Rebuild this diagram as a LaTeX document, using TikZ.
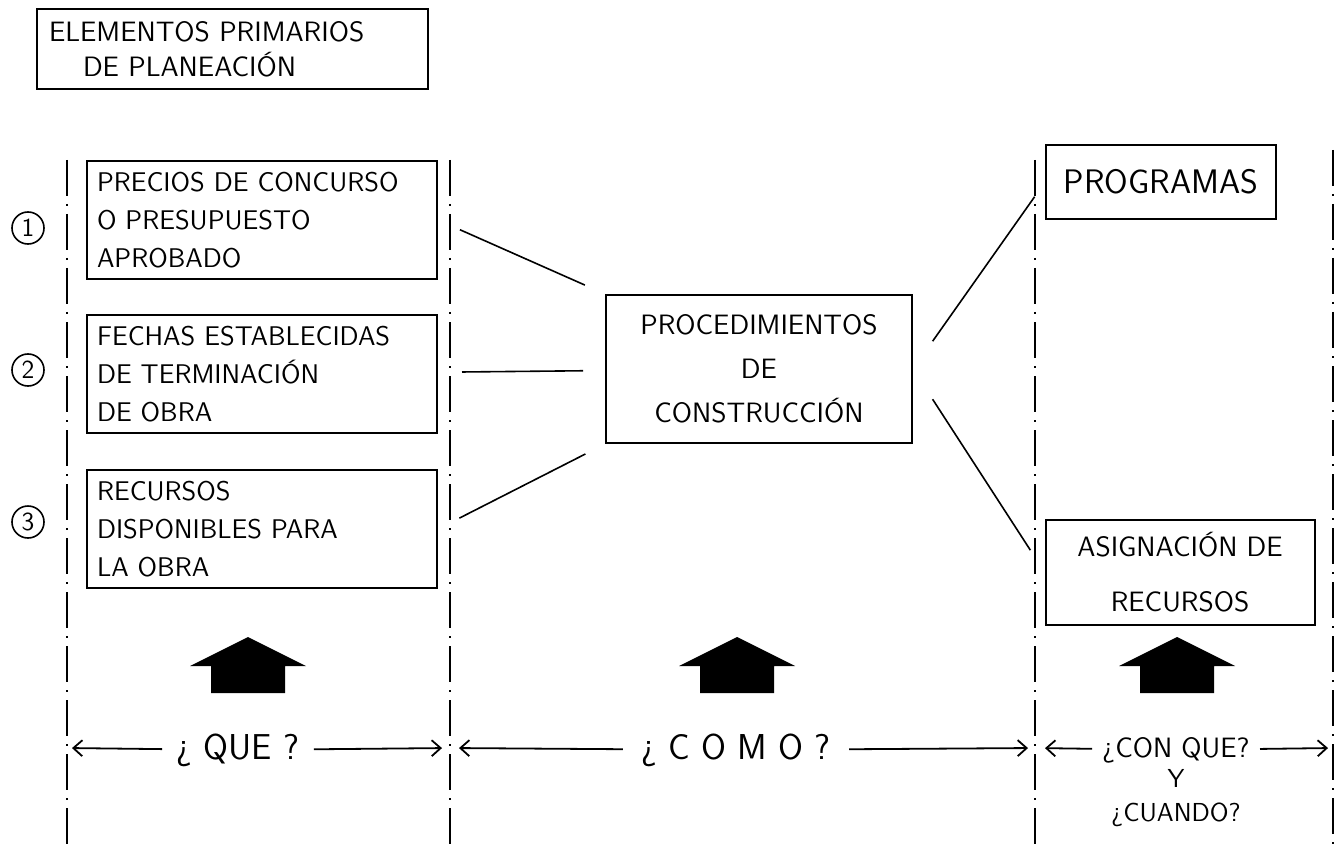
\documentclass[tikz,border=0pt]{standalone}
\usepackage{tikz}
\usetikzlibrary{positioning,arrows.meta}

\tikzset{
  caja/.style={draw, line width=1pt, rectangle, inner sep=5pt},
  cajaizq/.style={caja, minimum width=175pt, minimum height=59pt, text width=165pt,
    align=left, font=\sffamily\fontsize{13.5}{19}\selectfont},
  numero/.style={draw, circle, line width=0.8pt, minimum size=16pt, inner sep=0pt,
    font=\sffamily\fontsize{13}{13}\selectfont},
  linea/.style={line width=0.8pt},
  divisor/.style={line width=0.6pt, dash pattern=on 18pt off 4pt on 1pt off 4pt},
  flecha/.style={-{Straight Barb[length=4.5pt, width=8pt]}, line width=0.9pt},
  pregunta/.style={inner ysep=2pt, font=\sffamily\fontsize{18}{18}\selectfont}
}

\begin{document}
\begin{tikzpicture}[x=0.5pt, y=-0.5pt]
  \useasboundingbox (0,0) rectangle (1336,844);

  % Divisiones verticales
  \draw[divisor] (67,160) -- (67,844);
  \draw[divisor] (450,160) -- (450,844);
  \draw[divisor] (1035,160) -- (1035,844);
  \draw[divisor] (1333,150) -- (1333,844);

  % Título
  \node[caja, minimum width=195.5pt, minimum height=39.5pt, text width=183pt, inner sep=6pt,
    align=left, font=\sffamily\fontsize{14}{17.5}\selectfont] (titulo) at (232,49)
    {ELEMENTOS PRIMARIOS\\\hspace*{17pt}DE PLANEACIÓN};

  % Elementos
  \node[cajaizq] (caja1) at (262,220) {PRECIOS DE CONCURSO\\O PRESUPUESTO\\APROBADO};
  \node[cajaizq] (caja2) at (262,374) {FECHAS ESTABLECIDAS\\DE TERMINACIÓN\\DE OBRA};
  \node[cajaizq] (caja3) at (262,529) {RECURSOS\\DISPONIBLES PARA\\LA OBRA};
  \node[numero] (num1) at (28,228) {1};
  \node[numero] (num2) at (28,370) {2};
  \node[numero] (num3) at (28,522) {3};

  \node[caja, minimum width=153pt, minimum height=74pt, align=center,
    font=\sffamily\fontsize{14}{22}\selectfont] (proc) at (759,369)
    {PROCEDIMIENTOS\\DE\\CONSTRUCCIÓN};
  \node[caja, minimum width=115pt, minimum height=37pt,
    font=\sffamily\fontsize{17}{17}\selectfont] (prog) at (1161,182) {PROGRAMAS};
  \node[caja, minimum width=134.5pt, minimum height=52.5pt, inner sep=2pt, align=center,
    font=\sffamily\fontsize{14}{27.5}\selectfont] (asig) at (1180,572)
    {ASIGNACIÓN DE\\RECURSOS};

  % Conexiones
  \draw[linea, shorten <=12pt, shorten >=11pt] (caja1.east) -- (proc.north west);
  \draw[linea, shorten <=12pt, shorten >=11pt] (caja2) -- (proc);
  \draw[linea, shorten <=12pt, shorten >=11pt] (caja3.east) -- (proc.south west);
  \draw[linea, shorten <=17pt, shorten >=9pt] (proc.east) -- (prog.west);
  \draw[linea, shorten <=18pt, shorten >=13pt] (proc.east) -- (asig.west);

  % Flechas gruesas
  \foreach \cx in {248,737,1177}
    \fill (\cx-58,666) -- (\cx,637) -- (\cx+58,666) -- (\cx+37,666)
      -- (\cx+37,693) -- (\cx-37,693) -- (\cx-37,666) -- cycle;

  % Preguntas
  \coordinate (d1) at (67,748);
  \coordinate (d2) at (450,748);
  \coordinate (d3) at (1035,748);
  \coordinate (d4) at (1333,748);
  \node[pregunta, inner xsep=7pt] (q1) at (238,750) {¿ QUE ?};
  \node[pregunta, inner xsep=9pt] (q2) at (736,750) {¿ C O M O ?};
  \node[pregunta, inner xsep=5pt, font=\sffamily\fontsize{14}{14}\selectfont] (q3) at (1176,750) {¿CON QUE?};
  \node[below=0pt of q3, align=center, inner sep=1pt,
    font=\sffamily\fontsize{13}{17}\selectfont] (q4) {Y\\¿CUANDO?};
  \draw[flecha, shorten >=2.5pt] (q1) -- (d1);
  \draw[flecha, shorten >=4pt] (q1) -- (d2);
  \draw[flecha, shorten >=4.5pt] (q2) -- (d2);
  \draw[flecha, shorten >=3.5pt] (q2) -- (d3);
  \draw[flecha, shorten >=5pt] (q3) -- (d3);
  \draw[flecha, shorten >=2.5pt] (q3) -- (d4);
\end{tikzpicture}
\end{document}
